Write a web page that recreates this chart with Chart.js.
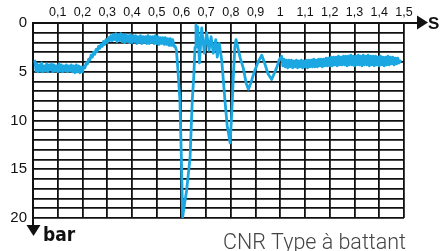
<!DOCTYPE html>
<html>
<head>
<meta charset="utf-8">
<script src="https://cdn.jsdelivr.net/npm/chart.js@4"></script>
<style>
  body { margin: 0; background: #fff; }
</style>
</head>
<body>
<canvas id="chart" width="441" height="251"></canvas>
<script>
// pressure trace (time in s, pressure in bar)
// start: noisy at ~4.6 bar, then the rise to the plateau
const settleTimes = [
  0.008, 0.012, 0.015, 0.020, 0.025, 0.030, 0.035, 0.040, 0.045, 0.050,
  0.055, 0.060, 0.065, 0.070, 0.075, 0.080, 0.085, 0.090, 0.095, 0.100,
  0.105, 0.110, 0.115, 0.120, 0.125, 0.130, 0.135, 0.140, 0.145, 0.150,
  0.155, 0.160, 0.165, 0.170, 0.175, 0.180, 0.185, 0.190, 0.195, 0.200,
  0.205, 0.210, 0.215, 0.220, 0.225, 0.230, 0.235, 0.240, 0.245, 0.250,
  0.255, 0.260, 0.265, 0.270, 0.275, 0.280, 0.285, 0.290, 0.295, 0.300,
  0.305, 0.310, 0.315, 0.320, 0.325, 0.330
];
const settlePressure = [
  3.9, 4.9, 4.2, 5.0, 4.3, 4.9, 4.1, 5.0, 4.4, 4.9,
  4.2, 5.0, 4.3, 4.8, 4.2, 5.0, 4.3, 4.9, 4.4, 5.0,
  4.2, 4.9, 4.3, 5.0, 4.4, 4.9, 4.3, 5.0, 4.4, 4.9,
  4.3, 5.0, 4.4, 5.1, 4.3, 5.0, 4.4, 5.1, 4.5, 5.0,
  4.5, 4.6, 4.1, 4.2, 3.7, 3.8, 3.3, 3.5, 3.0, 3.2,
  2.7, 2.9, 2.4, 2.6, 2.2, 2.4, 1.9, 2.2, 1.7, 2.0,
  1.5, 1.8, 1.3, 1.8, 1.2, 1.7
];

// plateau at ~1.7 bar
const plateauTimes = [
  0.335, 0.340, 0.345, 0.350, 0.355, 0.360, 0.365, 0.370, 0.375, 0.380,
  0.385, 0.390, 0.395, 0.400, 0.405, 0.410, 0.415, 0.420, 0.425, 0.430,
  0.435, 0.440, 0.445, 0.450, 0.455, 0.460, 0.465, 0.470, 0.475, 0.480,
  0.485, 0.490, 0.495, 0.500, 0.505, 0.510, 0.515, 0.520, 0.525, 0.530,
  0.535, 0.540, 0.545, 0.550, 0.555, 0.560, 0.565, 0.570, 0.575, 0.580
];
const plateauPressure = [
  1.1, 1.9, 1.2, 1.8, 1.1, 1.9, 1.2, 2.0, 1.2, 1.9,
  1.3, 2.0, 1.2, 2.0, 1.3, 1.9, 1.3, 2.1, 1.4, 2.0,
  1.3, 2.1, 1.4, 2.0, 1.4, 2.1, 1.3, 2.1, 1.4, 2.0,
  1.4, 2.1, 1.3, 2.1, 1.4, 2.2, 1.5, 2.1, 1.5, 2.2,
  1.5, 2.2, 1.6, 2.3, 1.6, 2.3, 1.7, 2.4, 2.4, 2.8
];

// valve closing: deep drops and oscillations
const transientTimes = [
  0.585, 0.594, 0.600, 0.605, 0.613, 0.621, 0.628, 0.635, 0.640, 0.644,
  0.650, 0.655, 0.659, 0.662, 0.666, 0.673, 0.682, 0.693, 0.702, 0.712,
  0.720, 0.729, 0.739, 0.745, 0.753, 0.763, 0.776, 0.785, 0.797, 0.803,
  0.810, 0.816, 0.821, 0.828, 0.838, 0.850, 0.862, 0.871, 0.880, 0.895,
  0.910, 0.925, 0.935, 0.950, 0.965, 0.975, 0.985, 0.995
];
const transientPressure = [
  4.5, 7.9, 14.0, 19.9, 18.5, 17.2, 15.5, 13.8, 10.5, 7.9,
  5.5, 2.5, 0.2, 1.2, 0.4, 4.1, 0.5, 3.1, 1.0, 2.8,
  1.4, 3.1, 1.7, 3.5, 2.1, 3.8, 7.9, 10.5, 12.3, 9.5,
  5.5, 2.5, 1.7, 2.5, 3.6, 4.6, 6.2, 6.8, 6.2, 5.0,
  4.0, 3.3, 4.0, 5.2, 5.8, 5.2, 4.6, 3.8
];

// steady state at ~4 bar
const steadyTimes = [
  1.005, 1.010, 1.015, 1.020, 1.025, 1.030, 1.035, 1.040, 1.045, 1.050,
  1.055, 1.060, 1.065, 1.070, 1.075, 1.080, 1.085, 1.090, 1.095, 1.100,
  1.105, 1.110, 1.115, 1.120, 1.125, 1.130, 1.135, 1.140, 1.145, 1.150,
  1.155, 1.160, 1.165, 1.170, 1.175, 1.180, 1.185, 1.190, 1.195, 1.200,
  1.205, 1.210, 1.215, 1.220, 1.225, 1.230, 1.235, 1.240, 1.245, 1.250,
  1.255, 1.260, 1.265, 1.270, 1.275, 1.280, 1.285, 1.290, 1.295, 1.300,
  1.305, 1.310, 1.315, 1.320, 1.325, 1.330, 1.335, 1.340, 1.345, 1.350,
  1.355, 1.360, 1.365, 1.370, 1.375, 1.380, 1.385, 1.390, 1.395, 1.400,
  1.405, 1.410, 1.415, 1.420, 1.425, 1.430, 1.435, 1.440, 1.445, 1.450,
  1.455, 1.460, 1.465, 1.470, 1.475, 1.480, 1.485
];
const steadyPressure = [
  3.4, 4.4, 3.7, 4.5, 3.8, 4.6, 3.8, 4.5, 3.8, 4.6,
  3.9, 4.5, 3.8, 4.6, 3.9, 4.5, 3.8, 4.6, 3.9, 4.5,
  3.8, 4.6, 3.8, 4.5, 3.8, 4.5, 3.7, 4.5, 3.8, 4.5,
  3.7, 4.4, 3.7, 4.5, 3.7, 4.4, 3.6, 4.4, 3.6, 4.4,
  3.5, 4.4, 3.5, 4.3, 3.5, 4.4, 3.4, 4.3, 3.5, 4.3,
  3.4, 4.3, 3.4, 4.4, 3.4, 4.3, 3.3, 4.3, 3.4, 4.4,
  3.4, 4.3, 3.3, 4.3, 3.4, 4.4, 3.3, 4.3, 3.4, 4.3,
  3.3, 4.4, 3.4, 4.3, 3.4, 4.4, 3.4, 4.3, 3.5, 4.4,
  3.4, 4.3, 3.5, 4.4, 3.5, 4.3, 3.4, 4.3, 3.5, 4.2,
  3.5, 4.3, 3.6, 4.2, 3.6, 4.1, 3.9
];

const times = settleTimes.concat(plateauTimes, transientTimes, steadyTimes);
const pressure = settlePressure.concat(plateauPressure, transientPressure, steadyPressure);

const ink = '#111';

// arrows, unit names and caption
const decorations = {
  id: 'decorations',
  afterDraw(chart) {
    const { ctx, chartArea } = chart;
    const { left, top, right, bottom } = chartArea;
    ctx.save();
    ctx.strokeStyle = ink;
    ctx.fillStyle = ink;
    ctx.lineWidth = 2;

    // time axis arrow
    ctx.beginPath();
    ctx.moveTo(right, top);
    ctx.lineTo(418, top);
    ctx.stroke();
    ctx.beginPath();
    ctx.moveTo(417, 15.5);
    ctx.lineTo(428, 22.5);
    ctx.lineTo(417, 29.5);
    ctx.closePath();
    ctx.fill();
    ctx.font = 'bold 17px "Liberation Sans", Arial, sans-serif';
    ctx.textBaseline = 'alphabetic';
    ctx.fillText('S', 428, 29);

    // pressure axis arrow
    ctx.beginPath();
    ctx.moveTo(left, bottom);
    ctx.lineTo(left, 226);
    ctx.stroke();
    ctx.beginPath();
    ctx.moveTo(26.5, 225);
    ctx.lineTo(40.5, 225);
    ctx.lineTo(33.5, 236);
    ctx.closePath();
    ctx.fill();
    ctx.font = 'bold 19px "Liberation Sans Narrow", "DejaVu Sans Condensed", sans-serif';
    ctx.fillText('bar', 43, 241);

    // caption
    ctx.fillStyle = '#444';
    ctx.font = '300 21.5px Roboto, "Liberation Sans", sans-serif';
    ctx.textAlign = 'right';
    ctx.fillText('CNR Type à battant', 406, 249);
    ctx.restore();
  }
};

const ctx = document.getElementById('chart');

new Chart(ctx, {
  type: 'line',
  data: {
    datasets: [{
      data: times.map((t, i) => ({ x: t, y: pressure[i] })),
      borderColor: '#1ba8e2',
      borderWidth: 2.8,
      borderJoinStyle: 'round',
      borderCapStyle: 'round',
      pointRadius: 0,
      tension: 0
    }]
  },
  options: {
    responsive: false,
    animation: false,
    devicePixelRatio: 1,
    layout: { padding: { left: 0, top: 0, right: 37, bottom: 33 } },
    plugins: {
      legend: { display: false },
      tooltip: { enabled: false }
    },
    scales: {
      x: {
        type: 'linear',
        position: 'top',
        min: 0,
        max: 1.5,
        afterFit(scale) { scale.height = 23; },
        ticks: {
          stepSize: 0.1,
          autoSkip: false,
          maxRotation: 0,
          padding: 3,
          color: ink,
          font: { size: 12.5, family: '"Liberation Sans Narrow", "Liberation Sans", sans-serif' },
          callback: function(value) {
            if (Math.abs(value) < 1e-9) return '';
            if (Math.abs(value - 1) < 1e-9) return '1';
            return value.toFixed(1).replace('.', ',');
          }
        },
        grid: { color: ink, lineWidth: 1.8, drawTicks: false },
        border: { color: ink, width: 2 }
      },
      y: {
        type: 'linear',
        reverse: true,
        min: 0,
        max: 20,
        afterFit(scale) { scale.width = 33; },
        ticks: {
          stepSize: 1,
          autoSkip: false,
          padding: 6,
          color: ink,
          font: { size: 15, family: '"Liberation Sans Narrow", "Liberation Sans", sans-serif' },
          callback: function(value) {
            return value % 5 === 0 ? value : '';
          }
        },
        grid: { color: ink, lineWidth: 1.8, drawTicks: false },
        border: { color: ink, width: 2 }
      }
    }
  },
  plugins: [decorations]
});
</script>
</body>
</html>
